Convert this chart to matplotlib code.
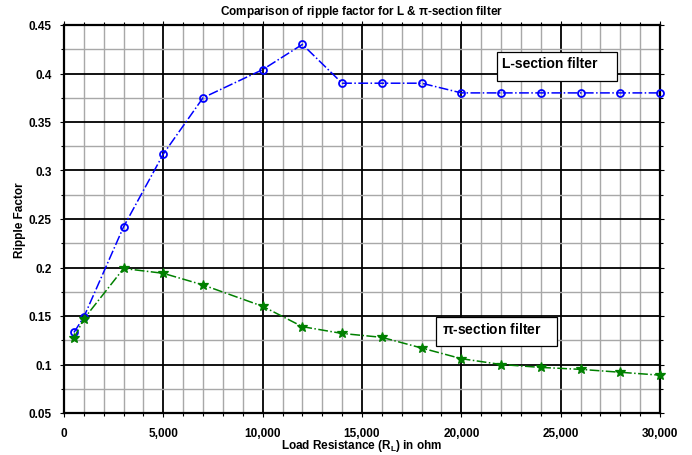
import matplotlib
matplotlib.use("Agg")
import matplotlib.pyplot as plt
from matplotlib.ticker import MultipleLocator, FuncFormatter
from matplotlib.patches import Rectangle

plt.rcParams['font.family'] = ['Liberation Sans', 'DejaVu Sans']
plt.rcParams['font.weight'] = 'bold'
plt.rcParams['mathtext.fontset'] = 'custom'
plt.rcParams['mathtext.rm'] = 'Liberation Sans:bold'
plt.rcParams['mathtext.bf'] = 'Liberation Sans:bold'

x = [500, 1000, 3000, 5000, 7000, 10000, 12000, 14000, 16000, 18000, 20000,
     22000, 24000, 26000, 28000, 30000]
l_section = [0.133, 0.149, 0.242, 0.317, 0.375, 0.404, 0.430, 0.390, 0.390,
             0.390, 0.380, 0.380, 0.380, 0.380, 0.380, 0.380]
pi_section = [0.127, 0.147, 0.199, 0.194, 0.182, 0.160, 0.139, 0.132, 0.128,
              0.117, 0.106, 0.100, 0.097, 0.095, 0.092, 0.089]

fig = plt.figure(figsize=(6.92, 4.56), dpi=100)
ax = fig.add_axes([64/692, 1-414/456, (660-64)/692, (414-26)/456])

ax.plot(x, l_section, color="#0000ff", linestyle="-.", linewidth=1.1,
        marker="o", markersize=5, markerfacecolor="none", markeredgewidth=1.3, zorder=3,
        clip_on=False)
ax.plot(x, pi_section, color="#008000", linestyle="-.", linewidth=1.1,
        marker="*", markersize=7, markeredgewidth=0.9, zorder=3, clip_on=False)

ax.set_xlim(0, 30000)
ax.set_ylim(0.05, 0.45)
ax.xaxis.set_major_locator(MultipleLocator(5000))
ax.xaxis.set_minor_locator(MultipleLocator(1000))
ax.yaxis.set_major_locator(MultipleLocator(0.05))
ax.yaxis.set_minor_locator(MultipleLocator(0.025))
ax.xaxis.set_major_formatter(FuncFormatter(lambda v, p: f"{int(v):,}"))
ax.yaxis.set_major_formatter(FuncFormatter(lambda v, p: f"{v:g}"))

ax.grid(which="minor", color="#a8a8a8", linewidth=1.0, zorder=0)
ax.grid(which="major", color="black", linewidth=1.3, zorder=1)
ax.set_axisbelow(True)
for s in ax.spines.values():
    s.set_linewidth(1.6)

ax.tick_params(which="both", top=True, right=True, direction="out", length=2, width=0.8,
               labelsize=8.5)
ax.tick_params(which="major", length=3)
ax.tick_params(axis="x", pad=7)
ax.tick_params(axis="y", pad=6)

ax.set_title("Comparison of ripple factor for L & $\\mathbf{\\pi}$-section filter",
             fontsize=8.5, fontweight="bold", pad=8)
ax.set_xlabel("Load Resistance (R$_\\mathbf{L}$) in ohm", fontsize=8.5, fontweight="bold", labelpad=-1)
ax.set_ylabel("Ripple Factor", fontsize=8.5, fontweight="bold", labelpad=2)

ax.add_patch(Rectangle((21795, 0.3923), 27836 - 21795, 0.4222 - 0.3923,
                       facecolor="white", edgecolor="black", linewidth=0.9, zorder=4))
ax.text(22050, 0.4105, "L-section filter", fontsize=10, fontweight="bold", va="center", zorder=5)
ax.add_patch(Rectangle((18725, 0.119), 24815 - 18725, 0.149 - 0.119,
                       facecolor="white", edgecolor="black", linewidth=0.9, zorder=4))
ax.text(19030, 0.1366, "$\\mathbf{\\pi}$-section filter", fontsize=10, fontweight="bold",
        va="center", zorder=5)

fig.savefig("out.png", dpi=100)
